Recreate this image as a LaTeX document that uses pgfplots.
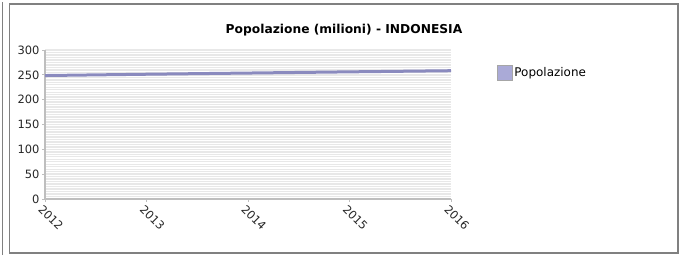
\documentclass[border=0pt]{standalone}
\usepackage{fontspec}
\setmainfont{DejaVu Sans}
\usepackage{pgfplots}
\pgfplotsset{compat=1.18}
\definecolor{linec}{RGB}{138,138,190}
\definecolor{framec}{RGB}{128,128,128}
\definecolor{axisc}{RGB}{190,190,190}
\definecolor{stripe}{RGB}{232,232,232}
\definecolor{legc}{RGB}{170,170,215}
\begin{document}
\begin{tikzpicture}[x=1bp,y=1bp]
\path (0,0) rectangle (681,255);
\draw[framec, line width=1.2bp] (9.5,2) rectangle (678,251);
\draw[framec, line width=1bp] (2.5,0) -- (2.5,253);
\node[font=\bfseries\fontsize{12.3}{14}\selectfont] at (344,225) {Popolazione (milioni) - INDONESIA};
\begin{axis}[
  at={(45bp,56bp)}, anchor=south west,
  scale only axis, width=406bp, height=149bp,
  xmin=2012, xmax=2016, ymin=0, ymax=300,
  xtick={2012,2013,2014,2015,2016},
  ytick={0,50,100,150,200,250,300},
  minor y tick num=9,
  /pgf/number format/1000 sep={},
  /pgf/number format/assume math mode=true,
  axis x line*=bottom, axis y line*=left,
  axis line style={axisc, line width=1.5bp, -},
  tick style={axisc, line width=0.8bp},
  major tick length=3bp, minor tick length=0bp,
  tick align=outside,
  ymajorgrids, yminorgrids,
  major grid style={stripe, line width=1.4bp},
  minor grid style={stripe, line width=1.4bp},
  ticklabel style={font=\fontsize{11.5}{13}\selectfont, text=black!85},
  yticklabel style={anchor=east, xshift=1bp},
  xticklabel style={rotate=-45, anchor=north west, xshift=-3bp, yshift=1bp},
  legend style={at={(1.105,0.846)}, anchor=west, draw=none, fill=none,
    font=\fontsize{12}{14}\selectfont},
  legend cell align=left,
  legend image code/.code={\filldraw[fill=legc, draw=gray!70, line width=0.6bp] (0bp,-7.5bp) rectangle (15bp,7.5bp);},
  clip=false,
]
\addplot[linec, line width=3bp] coordinates {
  (2012,248.6) (2013,251.2) (2014,253.6) (2015,256.0) (2016,258.3)
};
\addlegendentry{Popolazione}
\end{axis}
\end{tikzpicture}
\end{document}
